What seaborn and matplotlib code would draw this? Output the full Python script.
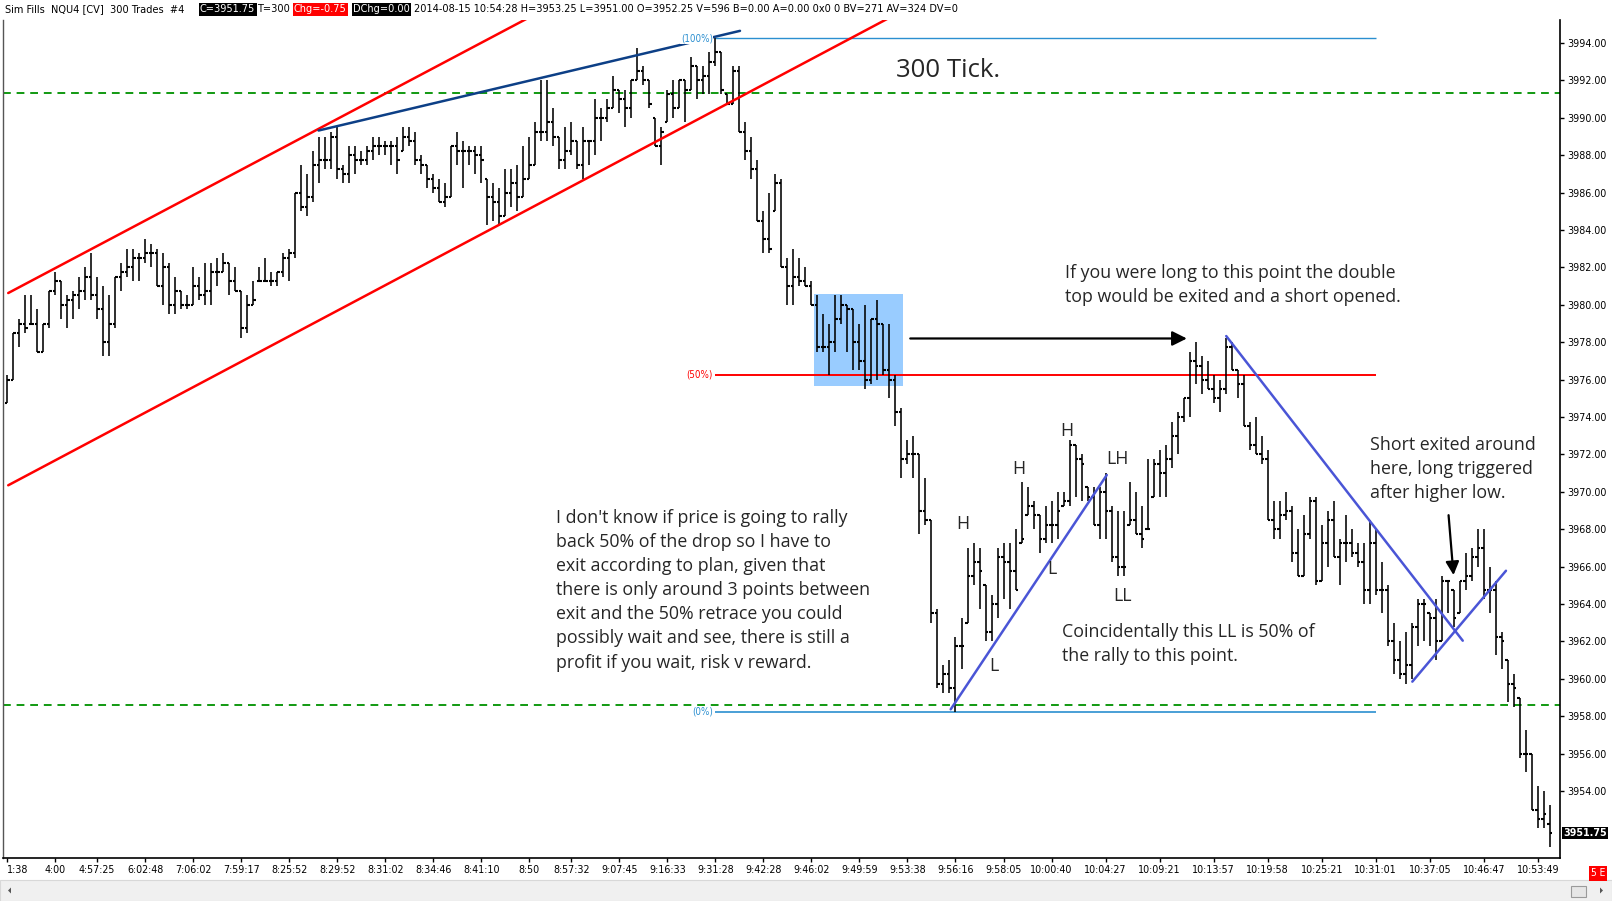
import numpy as np
import pandas as pd
import seaborn as sns
import matplotlib
matplotlib.use("Agg")
import matplotlib.pyplot as plt
from matplotlib.patches import Rectangle, Polygon
from matplotlib.font_manager import fontManager
import matplotlib.transforms as mtransforms

# ---------------- data ----------------
highs = [
    3976.25, 3978.5, 3979.25, 3980.5, 3980.5, 3979.75, 3979.0, 3980.75, 3981.75, 3981.25,
    3980.5, 3980.75, 3981.5, 3982.0, 3982.75, 3981.5, 3981.0, 3980.5, 3981.5, 3982.25,
    3983.0, 3983.0, 3982.75, 3983.5, 3983.25, 3983.0, 3982.75, 3982.25, 3981.5, 3980.75,
    3980.5, 3982.0, 3981.5, 3982.25, 3982.25, 3982.5, 3982.75, 3982.25, 3982.0, 3980.75,
    3980.5, 3981.25, 3982.0, 3982.5, 3981.75, 3981.75, 3982.75, 3983.0, 3986.0, 3987.5,
    3987.0, 3988.25, 3989.0, 3989.0, 3989.25, 3989.5, 3987.5, 3988.5, 3988.5, 3988.25,
    3988.5, 3989.0, 3989.0, 3988.75, 3988.75, 3989.0, 3989.5, 3989.5, 3989.25, 3988.0,
    3987.5, 3987.0, 3986.75, 3986.5, 3988.5, 3989.25, 3988.75, 3988.5, 3988.5, 3988.5,
    3986.75, 3986.5, 3986.25, 3987.25, 3987.25, 3987.5, 3988.5, 3989.0, 3989.75, 3992.0,
    3992.0, 3990.5, 3989.0, 3989.5, 3989.75, 3988.75, 3989.5, 3988.75, 3991.0, 3990.5,
    3991.0, 3992.25, 3991.5, 3991.5, 3992.0, 3993.75, 3992.75, 3992.0, 3990.0, 3989.5,
    3991.5, 3992.0, 3992.0, 3992.0, 3993.25, 3992.75, 3992.75, 3993.5, 3994.25, 3993.5,
    3991.25, 3992.75, 3992.75, 3989.75, 3989.0, 3987.75, 3985.0, 3986.0, 3987.0, 3986.75,
    3982.5, 3983.0, 3982.5, 3982.0, 3981.25, 3980.5, 3979.5, 3979.0, 3980.5, 3980.5,
    3980.0, 3979.75, 3979.0, 3980.0, 3979.25, 3980.25, 3979.0, 3979.0, 3976.25, 3974.5,
    3972.75, 3973.0, 3972.0, 3970.75, 3968.5, 3963.75, 3960.75, 3961.0, 3962.25, 3963.25,
    3967.0, 3967.25, 3967.0, 3965.0, 3964.5, 3967.0, 3967.25, 3967.25, 3968.0, 3970.5,
    3970.25, 3969.5, 3968.75, 3969.25, 3969.5, 3970.0, 3970.0, 3972.75, 3972.5, 3972.0,
    3970.25, 3970.25, 3970.25, 3971.0, 3969.25, 3969.0, 3969.0, 3970.5, 3970.0, 3969.25,
    3971.75, 3971.75, 3972.25, 3972.5, 3973.75, 3974.25, 3975.0, 3977.5, 3978.0, 3977.25,
    3977.0, 3976.25, 3976.0, 3978.25, 3978.0, 3976.5, 3976.25, 3973.75, 3974.0, 3973.0,
    3972.25, 3969.5, 3969.5, 3970.0, 3969.25, 3968.0, 3968.75, 3969.75, 3969.75, 3968.25,
    3969.0, 3969.5, 3967.5, 3968.75, 3968.0, 3967.25, 3967.25, 3968.5, 3968.0, 3966.25,
    3965.0, 3963.0, 3962.0, 3962.5, 3963.0, 3964.25, 3964.25, 3963.5, 3964.25, 3965.5,
    3965.25, 3964.75, 3965.25, 3966.75, 3967.0, 3968.0, 3968.0, 3966.0, 3965.25, 3962.5,
    3961.0, 3960.25, 3959.0, 3957.25, 3956.0, 3954.25, 3954.0, 3953.25,
]
lows = [
    3974.75, 3976.0, 3977.75, 3978.5, 3979.0, 3977.5, 3977.5, 3978.75, 3980.5, 3979.25,
    3978.75, 3979.25, 3979.75, 3980.25, 3980.25, 3979.25, 3977.25, 3977.25, 3978.75, 3980.75,
    3981.5, 3981.25, 3981.25, 3982.25, 3982.0, 3981.0, 3980.0, 3979.5, 3979.5, 3979.75,
    3979.75, 3980.0, 3980.25, 3980.0, 3980.0, 3981.0, 3981.75, 3980.5, 3980.75, 3978.25,
    3978.5, 3980.0, 3981.25, 3981.25, 3981.0, 3981.0, 3981.5, 3981.25, 3982.5, 3985.0,
    3984.75, 3985.5, 3986.5, 3987.25, 3987.25, 3986.75, 3986.5, 3986.5, 3987.0, 3987.5,
    3987.5, 3987.75, 3988.0, 3988.0, 3987.5, 3987.0, 3988.25, 3988.5, 3987.5, 3987.0,
    3986.25, 3986.0, 3985.5, 3985.25, 3985.75, 3987.5, 3986.25, 3987.5, 3987.0, 3986.5,
    3984.25, 3984.5, 3984.25, 3984.75, 3985.25, 3985.0, 3985.75, 3986.75, 3987.5, 3988.75,
    3988.75, 3988.5, 3987.25, 3987.25, 3988.0, 3987.25, 3986.75, 3987.5, 3988.0, 3988.75,
    3989.75, 3990.5, 3990.25, 3989.5, 3990.0, 3992.0, 3991.75, 3990.5, 3988.5, 3987.5,
    3989.75, 3990.0, 3990.5, 3989.75, 3991.5, 3991.0, 3991.25, 3991.25, 3992.75, 3991.25,
    3990.75, 3990.75, 3989.25, 3987.75, 3986.75, 3984.5, 3982.75, 3982.75, 3985.0, 3982.0,
    3980.0, 3980.0, 3981.0, 3981.0, 3980.0, 3977.5, 3977.5, 3976.25, 3977.5, 3979.0,
    3977.5, 3976.5, 3976.5, 3975.5, 3975.75, 3976.0, 3976.25, 3975.0, 3973.5, 3970.75,
    3971.5, 3970.75, 3967.75, 3968.25, 3963.0, 3959.5, 3959.25, 3959.25, 3958.25, 3960.5,
    3963.0, 3965.0, 3963.75, 3962.0, 3962.0, 3963.25, 3964.25, 3963.75, 3964.75, 3967.25,
    3968.75, 3968.0, 3966.75, 3967.25, 3967.25, 3967.5, 3969.25, 3969.25, 3969.75, 3969.5,
    3969.5, 3968.25, 3967.5, 3967.5, 3966.25, 3965.5, 3965.5, 3968.25, 3967.75, 3967.0,
    3968.0, 3969.75, 3969.75, 3969.75, 3971.25, 3972.0, 3973.75, 3974.0, 3975.75, 3975.25,
    3975.5, 3974.75, 3974.25, 3975.25, 3976.5, 3975.0, 3973.5, 3972.25, 3972.0, 3971.5,
    3968.5, 3967.5, 3967.5, 3968.5, 3966.25, 3965.5, 3965.5, 3967.5, 3965.0, 3965.25,
    3966.0, 3966.5, 3965.0, 3966.25, 3966.5, 3966.0, 3964.0, 3964.0, 3964.5, 3963.5,
    3961.75, 3960.25, 3960.0, 3959.75, 3960.0, 3961.75, 3962.0, 3961.75, 3961.0, 3962.0,
    3963.5, 3962.75, 3963.5, 3964.75, 3965.25, 3966.0, 3964.25, 3963.5, 3961.25, 3960.5,
    3958.75, 3958.5, 3955.75, 3955.0, 3953.0, 3952.0, 3952.0, 3951.0,
]
closes = [
    3976.0, 3978.5, 3979.0, 3978.75, 3979.0, 3977.5, 3979.0, 3980.75, 3981.25, 3980.0,
    3980.25, 3980.5, 3980.75, 3981.5, 3980.5, 3979.75, 3978.0, 3979.0, 3981.5, 3981.75,
    3982.0, 3982.5, 3982.5, 3982.75, 3982.75, 3981.0, 3982.0, 3980.0, 3980.75, 3980.0,
    3980.0, 3981.0, 3980.5, 3980.75, 3981.75, 3981.75, 3982.25, 3981.25, 3980.75, 3978.75,
    3980.0, 3980.25, 3981.25, 3981.25, 3981.25, 3981.75, 3982.5, 3982.75, 3986.0, 3985.25,
    3985.75, 3987.5, 3987.75, 3987.75, 3989.0, 3987.25, 3987.0, 3988.0, 3987.75, 3987.75,
    3988.25, 3988.5, 3988.5, 3988.5, 3988.5, 3987.75, 3989.0, 3988.75, 3987.75, 3987.5,
    3986.75, 3986.25, 3985.5, 3985.75, 3988.5, 3988.25, 3988.25, 3988.25, 3988.0, 3987.75,
    3985.75, 3985.5, 3984.75, 3986.0, 3986.5, 3985.75, 3986.75, 3987.5, 3989.25, 3989.25,
    3989.75, 3989.0, 3987.75, 3988.25, 3988.75, 3987.5, 3988.75, 3988.75, 3990.0, 3990.0,
    3990.5, 3991.5, 3991.0, 3990.5, 3992.0, 3992.5, 3992.0, 3990.75, 3988.5, 3989.25,
    3991.25, 3990.5, 3992.0, 3991.5, 3992.75, 3992.0, 3992.25, 3993.0, 3993.5, 3991.5,
    3990.75, 3992.5, 3989.25, 3988.25, 3987.25, 3984.5, 3983.5, 3983.0, 3986.5, 3982.0,
    3981.0, 3981.5, 3981.25, 3981.0, 3980.0, 3977.75, 3977.75, 3978.0, 3979.25, 3980.0,
    3979.75, 3978.0, 3977.0, 3976.0, 3979.25, 3979.0, 3976.5, 3976.0, 3974.25, 3971.75,
    3972.0, 3972.0, 3969.0, 3968.5, 3963.5, 3959.75, 3960.25, 3959.5, 3961.75, 3961.75,
    3965.5, 3966.25, 3965.75, 3962.5, 3964.0, 3966.5, 3966.25, 3965.75, 3964.75, 3967.5,
    3969.25, 3968.75, 3967.5, 3968.25, 3968.25, 3969.0, 3969.5, 3972.5, 3971.75, 3971.5,
    3969.75, 3968.25, 3970.0, 3969.0, 3966.5, 3966.0, 3966.0, 3968.5, 3967.75, 3967.5,
    3968.0, 3971.5, 3971.0, 3971.75, 3973.0, 3974.0, 3975.0, 3977.0, 3976.75, 3976.0,
    3975.5, 3975.0, 3975.5, 3977.75, 3976.5, 3975.75, 3973.5, 3972.5, 3972.0, 3971.75,
    3968.5, 3968.0, 3968.75, 3969.0, 3966.75, 3965.5, 3967.75, 3969.5, 3965.25, 3967.25,
    3968.5, 3966.5, 3967.25, 3967.25, 3966.75, 3966.25, 3964.75, 3967.25, 3964.75, 3964.75,
    3962.0, 3961.0, 3960.25, 3960.75, 3962.75, 3964.0, 3964.0, 3963.25, 3962.0, 3965.25,
    3965.25, 3963.25, 3965.25, 3965.5, 3966.5, 3967.0, 3964.75, 3964.75, 3962.25, 3962.0,
    3959.75, 3959.5, 3956.0, 3956.0, 3953.0, 3952.5, 3952.75, 3951.75,
]
first_open = 3974.75
last_open = 3952.25

time_tick_bars = [0, 8, 15, 23, 31, 39, 47, 55, 63, 71, 79, 87, 94, 102, 110, 118,
                  126, 134, 142, 150, 158, 166, 174, 183, 192, 201, 210, 219, 228,
                  237, 246, 255]
time_tick_labels = ["1:38", "4:00", "4:57:25", "6:02:48", "7:06:02", "7:59:17",
                    "8:25:52", "8:29:52", "8:31:02", "8:34:46", "8:41:10", "8:50",
                    "8:57:32", "9:07:45", "9:16:33", "9:31:28", "9:42:28", "9:46:02",
                    "9:49:59", "9:53:38", "9:56:16", "9:58:05", "10:00:40", "10:04:27",
                    "10:09:21", "10:13:57", "10:19:58", "10:25:21", "10:31:01",
                    "10:37:05", "10:46:47", "10:53:49"]
price_ticks = [3954, 3956, 3958, 3960, 3962, 3964, 3966, 3968, 3970, 3972, 3974,
               3976, 3978, 3980, 3982, 3984, 3986, 3988, 3990, 3992, 3994]

level_100 = 3994.25
level_50 = 3976.25
level_0 = 3958.25
green_levels = [3991.3, 3958.6]

# annotation lines (bar index, price)
red_upper = ([0.2, 87.0], [3980.63, 3995.37])
red_lower = ([0.2, 147.1], [3970.35, 3995.37])
navy_line = ([51.9, 122.1], [3989.32, 3994.65])
blue_up1 = ([157.2, 183.2], [3958.37, 3970.9])
blue_down = ([203.1, 242.5], [3978.33, 3962.04])
blue_up2 = ([234.1, 249.7], [3959.85, 3965.78])

# ---------------- frame ----------------
df = pd.DataFrame({"high": highs, "low": lows, "close": closes})
df["bar"] = np.arange(len(df))
opens = np.r_[first_open, df["close"].values[:-1]]
opens[-1] = last_open
df["open"] = np.clip(opens, df["low"], df["high"])

sns.set_style("white")
names = {f.name for f in fontManager.ttflist}
if "Liberation Sans Narrow" in names:
    NARROW = dict(family=["Liberation Sans Narrow", "DejaVu Sans"])
    nscale = 1.0
else:
    NARROW = dict(family=["DejaVu Sans"], stretch="condensed")
    nscale = 0.82
TXT = "Open Sans" if "Open Sans" in names else "DejaVu Sans"

W, H = 1612, 901
fig = plt.figure(figsize=(W / 100, H / 100), dpi=100)
fig.patch.set_facecolor("white")
ax_l, ax_r, ax_t, ax_b = 3, 1560, 20, 858
ax = fig.add_axes([ax_l / W, 1 - ax_b / H, (ax_r - ax_l) / W, (ax_b - ax_t) / H])
ax.set_facecolor("white")

# blue highlight box
ax.add_patch(Rectangle((134.4, 3975.66), 149.2 - 134.4, 3980.58 - 3975.66,
                       facecolor="#99CCFF", edgecolor="none", zorder=1))

# green dashed levels
for g in green_levels:
    ax.axhline(g, color="#119911", lw=1.4, ls=(0, (4, 3)), zorder=2)

# fib levels
ax.hlines(level_100, 118, 228, color="#2b8fd0", lw=1.0, zorder=2)
ax.hlines(level_50, 118, 228, color="#ff0000", lw=1.4, zorder=2)
ax.hlines(level_0, 118, 228, color="#2b8fd0", lw=1.2, zorder=2)

# OHLC bars
ax.vlines(df["bar"], df["low"], df["high"], color="black", lw=1.15, zorder=4)
ax.hlines(df["open"], df["bar"] - 0.42, df["bar"], color="black", lw=1.5, zorder=4)
ax.hlines(df["close"], df["bar"], df["bar"] + 0.42, color="black", lw=1.5, zorder=4)

# trend lines via seaborn
for (xs, ys), col in [(red_upper, "#ff0000"), (red_lower, "#ff0000"),
                      (navy_line, "#0d3f86"), (blue_up1, "#4a55d6"),
                      (blue_down, "#4a55d6"), (blue_up2, "#4a55d6")]:
    sns.lineplot(x=xs, y=ys, ax=ax, color=col, lw=1.8, zorder=5,
                 estimator=None, sort=False)

# fib labels
fibfont = dict(NARROW, fontsize=8 * nscale + 0.5)
ax.text(117.6, level_100, "(100%)", color="#2b8fd0", ha="right", va="center",
        bbox=dict(boxstyle="square,pad=0.05", fc="white", ec="none"), zorder=6, **fibfont)
ax.text(117.6, level_50, "(50%)", color="#ff0000", ha="right", va="center", zorder=6, **fibfont)
ax.text(117.6, level_0, "(0%)", color="#2b8fd0", ha="right", va="center", zorder=6, **fibfont)

# arrows
ax.annotate("", xy=(197.0, 3978.2), xytext=(150.0, 3978.2),
            arrowprops=dict(arrowstyle="-|>", color="black", lw=1.6, mutation_scale=22), zorder=6)
ax.annotate("", xy=(241.0, 3965.4), xytext=(240.1, 3968.9),
            arrowprops=dict(arrowstyle="-|>", color="black", lw=1.6, mutation_scale=20), zorder=6)

# texts
tfs = 12.8
ls = 1.44
ax.text(148.1, 3993.2, "300 Tick.", fontsize=18.5, family=TXT, ha="left", va="top", zorder=6)
ax.text(91.5, 3969.1,
        "I don't know if price is going to rally\nback 50% of the drop so I have to\n"
        "exit according to plan, given that\nthere is only around 3 points between\n"
        "exit and the 50% retrace you could\npossibly wait and see, there is still a\n"
        "profit if you wait, risk v reward.",
        fontsize=tfs, family=TXT, ha="left", va="top", linespacing=ls, zorder=6)
ax.text(176.2, 3982.2,
        "If you were long to this point the double\ntop would be exited and a short opened.",
        fontsize=tfs, family=TXT, ha="left", va="top", linespacing=ls, zorder=6)
ax.text(175.7, 3963.0,
        "Coincidentally this LL is 50% of\nthe rally to this point.",
        fontsize=tfs, family=TXT, ha="left", va="top", linespacing=ls, zorder=6)
ax.text(227.0, 3973.0,
        "Short exited around\nhere, long triggered\nafter higher low.",
        fontsize=tfs, family=TXT, ha="left", va="top", linespacing=ls, zorder=6)
for lab, xx, yy in [("H", 159.2, 3968.3), ("L", 164.4, 3960.7), ("H", 168.5, 3971.2),
                    ("L", 174.1, 3965.85), ("H", 176.5, 3973.27), ("LH", 184.9, 3971.73),
                    ("LL", 185.8, 3964.42)]:
    ax.text(xx, yy, lab, fontsize=tfs, family=TXT, ha="center", va="center", zorder=6)

# axes styling
ax.set_xlim(-0.67, 258.7)
ax.set_ylim(3950.42, 3995.23)
ax.yaxis.tick_right()
ax.set_yticks(price_ticks)
ax.set_yticklabels([f"{p:.2f}" for p in price_ticks], **NARROW)
ax.set_xticks(time_tick_bars)
ax.set_xticklabels(time_tick_labels, **NARROW)
ax.get_xticklabels()[0].set_horizontalalignment("left")
ax.tick_params(axis="y", which="both", right=True, left=False, length=3, width=1,
               direction="out", pad=2, labelsize=9.3 * nscale, colors="black")
ax.tick_params(axis="x", which="both", bottom=True, length=3, width=1,
               direction="out", pad=2, labelsize=9.3 * nscale, colors="black")
ax.spines["top"].set_visible(False)
ax.spines["left"].set_color("#555555")
ax.spines["left"].set_linewidth(1.0)
for s in ["right", "bottom"]:
    ax.spines[s].set_color("black")
    ax.spines[s].set_linewidth(1.2)
ax.set_xlabel("")
ax.set_ylabel("")

# last price tag
trans = mtransforms.blended_transform_factory(ax.transAxes, ax.transData)
ax.text(1.0022, closes[-1], f"{closes[-1]:.2f}", transform=trans, color="white",
        fontweight="bold", ha="left", va="center", fontsize=9.3 * nscale,
        bbox=dict(boxstyle="square,pad=0.12", fc="black", ec="none"), clip_on=False, **NARROW)

# header
hy = 1 - 9.5 / H
hfs = 9.6 * nscale
segs = [
    ("Sim Fills  NQU4 [CV]  300 Trades  #4", 5, "black", None),
    ("C=3951.75", 200, "white", "black"),
    ("T=300", 257, "black", None),
    ("Chg=-0.75", 294, "white", "#ff0000"),
    ("DChg=0.00", 353, "white", "black"),
    ("2014-08-15 10:54:28 H=3953.25 L=3951.00 O=3952.25 V=596 B=0.00 A=0.00 0x0 0 BV=271 AV=324 DV=0",
     414, "black", None),
]
for txt, xpx, fc, bc in segs:
    kw = {}
    if bc:
        kw["bbox"] = dict(boxstyle="square,pad=0.12", fc=bc, ec="none")
    fig.text(xpx / W, hy, txt, color=fc, fontsize=hfs, ha="left", va="center", **kw, **NARROW)

# bottom status / scrollbar strip
fig.patches.append(Rectangle((0, 0), 1, 21 / H, transform=fig.transFigure,
                             fc="#f0f0f0", ec="#d8d8d8", lw=0.8, zorder=0))
fig.patches.append(Rectangle((1571 / W, (901 - 897) / H), 15 / W, 11 / H,
                             transform=fig.transFigure, fc="#e6e6e6", ec="#9a9a9a",
                             lw=0.8, zorder=1))
fig.patches.append(Polygon([[8 / W, (901 - 890.5) / H],
                            [11 / W, (901 - 887.5) / H], [11 / W, (901 - 893.5) / H]],
                           closed=True, transform=fig.transFigure, fc="#555555", ec="none"))
fig.patches.append(Polygon([[1603 / W, (901 - 890.5) / H],
                            [1600 / W, (901 - 887.5) / H], [1600 / W, (901 - 893.5) / H]],
                           closed=True, transform=fig.transFigure, fc="#555555", ec="none"))
fig.text(1598 / W, 1 - 873.5 / H, "5 E", color="white", fontsize=9 * nscale,
         ha="center", va="center",
         bbox=dict(boxstyle="square,pad=0.2", fc="#ff0000", ec="none"), **NARROW)

fig.savefig("out.png", dpi=100, facecolor="white")
